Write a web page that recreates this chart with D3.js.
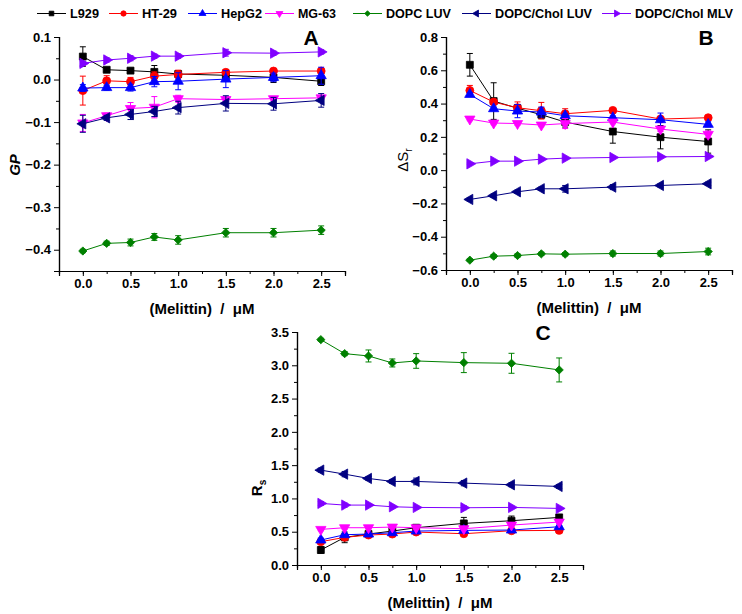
<!DOCTYPE html>
<html><head><meta charset="utf-8">
<script src="https://cdn.jsdelivr.net/npm/d3@7/dist/d3.min.js"></script>
<style>
body{margin:0;background:#fff;}
svg{font-family:"Liberation Sans",Arial,sans-serif;}
</style></head>
<body><svg id="chart" width="742" height="614"></svg>
<script>
// ---------- data ----------
const melittin = [0, 0.25, 0.5, 0.75, 1.0, 1.5, 2.0, 2.5];
const seriesNames = ["L929", "HT-29", "HepG2", "MG-63", "DOPC LUV", "DOPC/Chol LUV", "DOPC/Chol MLV"];
const seriesColors = ["#000000", "#ff0000", "#0000ff", "#ff00ff", "#008000", "#000080", "#8000ff"];

// Panel A : GP
const gpValues = [
  [0.054, 0.023, 0.021, 0.018, 0.013, 0.010, 0.005, -0.004],
  [-0.026, -0.003, -0.005, 0.008, 0.012, 0.017, 0.020, 0.020],
  [-0.020, -0.019, -0.019, -0.005, -0.004, 0.001, 0.005, 0.009],
  [-0.102, -0.085, -0.068, -0.065, -0.045, -0.047, -0.045, -0.043],
  [-0.403, -0.385, -0.383, -0.370, -0.377, -0.360, -0.360, -0.354],
  [-0.104, -0.090, -0.082, -0.075, -0.066, -0.056, -0.057, -0.049],
  [0.038, 0.046, 0.050, 0.055, 0.055, 0.063, 0.062, 0.065]
];
const gpErrors = [
  [0.023, 0.004, 0.004, 0.015, 0.008, 0.012, 0.012, 0.010],
  [0.034, 0.012, 0.010, 0.010, 0.010, 0.006, 0.005, 0.006],
  [0.008, 0.006, 0.008, 0.012, 0.020, 0.020, 0.010, 0.020],
  [0.020, 0.006, 0.014, 0.025, 0.008, 0.005, 0.005, 0.004],
  [0.004, 0.005, 0.008, 0.008, 0.010, 0.010, 0.010, 0.010],
  [0.020, 0.006, 0.012, 0.012, 0.015, 0.018, 0.015, 0.016],
  [0.005, 0.005, 0.006, 0.005, 0.005, 0.008, 0.005, 0.005]
];

// Panel B : delta S_r
const dsValues = [
  [0.633, 0.415, 0.372, 0.333, 0.289, 0.232, 0.198, 0.172],
  [0.479, 0.409, 0.375, 0.357, 0.339, 0.359, 0.307, 0.315],
  [0.455, 0.369, 0.355, 0.349, 0.327, 0.315, 0.303, 0.275],
  [0.307, 0.283, 0.280, 0.271, 0.280, 0.289, 0.247, 0.215],
  [-0.541, -0.517, -0.513, -0.503, -0.505, -0.501, -0.501, -0.489],
  [-0.176, -0.154, -0.130, -0.112, -0.112, -0.102, -0.092, -0.082],
  [0.038, 0.054, 0.054, 0.066, 0.072, 0.076, 0.080, 0.082]
];
const dsErrors = [
  [0.068, 0.110, 0.020, 0.020, 0.030, 0.070, 0.070, 0.070],
  [0.030, 0.010, 0.035, 0.050, 0.030, 0.005, 0.010, 0.010],
  [0.010, 0.010, 0.040, 0.030, 0.010, 0.010, 0.040, 0.015],
  [0.010, 0.010, 0.010, 0.010, 0.030, 0.010, 0.015, 0.020],
  [0.008, 0.010, 0.010, 0.010, 0.010, 0.015, 0.015, 0.020],
  [0.010, 0.010, 0.010, 0.010, 0.020, 0.015, 0.010, 0.010],
  [0.005, 0.005, 0.005, 0.005, 0.005, 0.005, 0.005, 0.005]
];

// Panel C : R_s
const rsValues = [
  [0.225, 0.415, 0.465, 0.510, 0.560, 0.625, 0.665, 0.715],
  [0.350, 0.415, 0.450, 0.465, 0.495, 0.470, 0.515, 0.520],
  [0.375, 0.455, 0.465, 0.485, 0.510, 0.520, 0.525, 0.575],
  [0.535, 0.560, 0.560, 0.570, 0.560, 0.545, 0.600, 0.645],
  [3.385, 3.175, 3.140, 3.035, 3.065, 3.040, 3.030, 2.930],
  [1.425, 1.365, 1.300, 1.255, 1.255, 1.230, 1.205, 1.180],
  [0.925, 0.900, 0.900, 0.875, 0.865, 0.860, 0.865, 0.850]
];
const rsErrors = [
  [0.050, 0.080, 0.020, 0.030, 0.030, 0.090, 0.070, 0.040],
  [0.020, 0.020, 0.020, 0.040, 0.020, 0.020, 0.020, 0.020],
  [0.030, 0.020, 0.020, 0.020, 0.020, 0.020, 0.020, 0.020],
  [0.020, 0.020, 0.020, 0.020, 0.020, 0.020, 0.020, 0.020],
  [0.020, 0.030, 0.090, 0.060, 0.110, 0.150, 0.150, 0.180],
  [0.030, 0.040, 0.030, 0.030, 0.050, 0.040, 0.030, 0.030],
  [0.030, 0.030, 0.020, 0.020, 0.020, 0.030, 0.020, 0.020]
];

const xTicks = [0, 0.5, 1.0, 1.5, 2.0, 2.5];

// ---------- drawing ----------
const svg = d3.select("#chart");
const markerRot = [0, 0, 0, 180, 45, -90, 90];
const markerType = [d3.symbolSquare, d3.symbolCircle, d3.symbolTriangle, d3.symbolTriangle,
                    d3.symbolSquare, d3.symbolTriangle, d3.symbolTriangle];
const markerSize = [48, 50, 46, 46, 34, 46, 46];
const fmtMinus = v => (v < 0 ? "\u2212" : "") + Math.abs(v).toFixed(1);

function drawMarker(g, i, x, y, scale) {
  g.append("path")
    .attr("d", d3.symbol().type(markerType[i]).size(markerSize[i] * (scale || 1)))
    .attr("transform", `translate(${x},${y}) rotate(${markerRot[i]})`)
    .attr("fill", seriesColors[i]).attr("stroke", seriesColors[i]).attr("stroke-width", 0.8);
}

function panel(cfg) {
  const g = svg.append("g");
  const x = d3.scaleLinear().domain([-0.25, 2.75]).range([cfg.left, cfg.right]);
  const y = d3.scaleLinear().domain(cfg.yDomain).range([cfg.bottom, cfg.top]);

  const xAxis = d3.axisBottom(x).tickValues(xTicks).tickFormat(d3.format(".1f")).tickSize(5).tickPadding(3);
  const xMinor = d3.axisBottom(x).tickValues(d3.range(-0.25, 2.76, 0.25)).tickFormat("").tickSize(3);
  const yAxis = d3.axisLeft(y).tickValues(cfg.yTicks).tickFormat(fmtMinus).tickSize(5).tickPadding(3);
  const yMinor = d3.axisLeft(y).tickValues(cfg.yMinor).tickFormat("").tickSize(3);

  [xMinor, xAxis].forEach(a => g.append("g").attr("transform", `translate(0,${cfg.bottom})`).call(a));
  [yMinor, yAxis].forEach(a => g.append("g").attr("transform", `translate(${cfg.left},0)`).call(a));
  g.selectAll(".domain").attr("stroke", "#000").attr("stroke-width", 1.2);
  g.selectAll(".tick line").attr("stroke", "#000").attr("stroke-width", 1);
  g.selectAll(".tick text").attr("font-size", 13).attr("font-weight", "bold")
    .attr("font-family", "Liberation Sans, Arial, sans-serif").attr("fill", "#000");

  cfg.values.forEach((vals, i) => {
    const col = seriesColors[i];
    const line = d3.line().x((d, k) => x(melittin[k])).y(d => y(d));
    g.append("path").attr("d", line(vals)).attr("fill", "none").attr("stroke", col).attr("stroke-width", 1);
    vals.forEach((v, k) => {
      const e = cfg.errors[i][k];
      const cx = x(melittin[k]);
      const y1 = y(v + e), y2 = y(v - e);
      g.append("line").attr("x1", cx).attr("x2", cx).attr("y1", y1).attr("y2", y2).attr("stroke", col).attr("stroke-width", 1);
      [y1, y2].forEach(yy => g.append("line").attr("x1", cx - 3).attr("x2", cx + 3).attr("y1", yy).attr("y2", yy)
        .attr("stroke", col).attr("stroke-width", 1));
    });
    vals.forEach((v, k) => drawMarker(g, i, x(melittin[k]), y(v)));
  });

  g.append("text").attr("x", (x(0) + x(2.5)) / 2).attr("y", cfg.bottom + 43)
    .attr("text-anchor", "middle").attr("font-size", 15).attr("font-weight", "bold")
    .style("white-space", "pre").text("(Melittin)  /  \u03bcM");

  g.append("text").attr("x", cfg.letterX).attr("y", cfg.letterY).attr("text-anchor", "middle")
    .attr("font-size", 21).attr("font-weight", "bold").text(cfg.letter);

  const yl = g.append("text").attr("transform", `translate(${cfg.yLabelX},${cfg.yLabelY}) rotate(-90)`)
    .attr("text-anchor", "middle").attr("font-size", 15).attr("font-weight", cfg.yLabelWeight);
  yl.append("tspan").attr("font-style", cfg.yLabelItalic ? "italic" : "normal").text(cfg.yLabel);
  if (cfg.yLabelSub) yl.append("tspan").attr("font-size", 10).attr("dy", 4).text(cfg.yLabelSub);
}

panel({
  left: 59, right: 345, top: 37, bottom: 271, yDomain: [-0.45, 0.1],
  yTicks: [-0.4, -0.3, -0.2, -0.1, 0, 0.1], yMinor: [-0.45, -0.35, -0.25, -0.15, -0.05, 0.05],
  values: gpValues, errors: gpErrors, letter: "A", letterX: 311, letterY: 45,
  yLabel: "GP", yLabelSub: null, yLabelX: 20, yLabelY: 165, yLabelWeight: "bold", yLabelItalic: true
});
panel({
  left: 446, right: 732, top: 37, bottom: 270, yDomain: [-0.6, 0.8],
  yTicks: [-0.6, -0.4, -0.2, 0, 0.2, 0.4, 0.6, 0.8], yMinor: [-0.5, -0.3, -0.1, 0.1, 0.3, 0.5, 0.7],
  values: dsValues, errors: dsErrors, letter: "B", letterX: 706, letterY: 45,
  yLabel: "\u0394S", yLabelSub: "r", yLabelX: 408, yLabelY: 160, yLabelWeight: "normal", yLabelItalic: false
});
panel({
  left: 297, right: 583, top: 332, bottom: 565, yDomain: [0, 3.5],
  yTicks: [0, 0.5, 1.0, 1.5, 2.0, 2.5, 3.0, 3.5], yMinor: [0.25, 0.75, 1.25, 1.75, 2.25, 2.75, 3.25],
  values: rsValues, errors: rsErrors, letter: "C", letterX: 543, letterY: 340,
  yLabel: "R", yLabelSub: "s", yLabelX: 262, yLabelY: 488, yLabelWeight: "bold", yLabelItalic: false
});

// legend
const legendX = [37, 109, 188, 265, 353, 462, 602];
const legendTextW = [29, 35, 41, 38, 65, 97, 98];
const lg = svg.append("g");
seriesNames.forEach((name, i) => {
  const x0 = legendX[i];
  lg.append("line").attr("x1", x0).attr("x2", x0 + 29).attr("y1", 13.5).attr("y2", 13.5)
    .attr("stroke", seriesColors[i]).attr("stroke-width", 1);
  drawMarker(lg, i, x0 + 14.5, 13.5, 0.45);
  lg.append("text").attr("x", x0 + 33).attr("y", 18).attr("font-size", 12.5).attr("font-weight", "bold")
    .attr("textLength", legendTextW[i]).attr("lengthAdjust", "spacingAndGlyphs").text(name);
});
</script></body></html>
